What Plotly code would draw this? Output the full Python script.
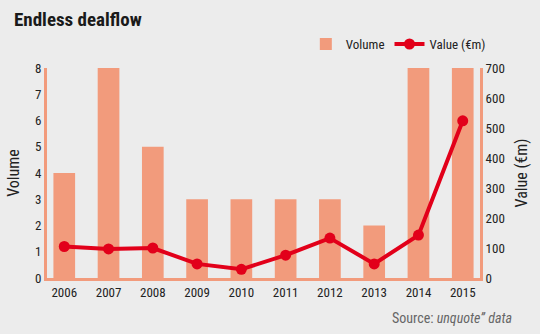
import plotly.graph_objects as go

years = ["2006", "2007", "2008", "2009", "2010", "2011", "2012", "2013", "2014", "2015"]
volume = [4, 8, 5, 3, 3, 3, 3, 2, 8, 8]
value_eur_m = [105, 97, 100, 47, 29, 76, 133, 47, 143, 524]

BAR = "#f29b7c"
RED = "#e2001a"
BG = "#ececec"
FONT = "Liberation Sans Narrow, Roboto Condensed, Arial Narrow, sans-serif"

fig = go.Figure()
fig.add_trace(go.Bar(
    x=years, y=volume, name="Volume", marker_color=BAR, marker_line_width=0,
    yaxis="y",
))
fig.add_trace(go.Scatter(
    x=years, y=value_eur_m, name="Value (€m)", mode="lines+markers",
    line=dict(color=RED, width=4), marker=dict(color=RED, size=11),
    yaxis="y2",
))

fig.update_layout(
    width=540, height=334,
    margin=dict(l=46, r=56, t=68, b=56),
    paper_bgcolor=BG, plot_bgcolor=BG,
    font=dict(family=FONT, size=13, color="#222"),
    bargap=0.51,
    showlegend=True,
    legend=dict(orientation="h", x=1.025, xanchor="right", y=1.114, yanchor="middle",
                bgcolor="rgba(0,0,0,0)", font=dict(size=13, color="#222"),
                itemwidth=30, traceorder="normal"),
    xaxis=dict(
        type="category", range=[-0.39, 9.39],
        showline=True, linecolor=BAR, linewidth=3,
        showgrid=False, ticks="", tickfont=dict(size=13, color="#222"),
    ),
    yaxis=dict(
        range=[0, 8], dtick=1, showgrid=False, zeroline=False,
        showline=True, linecolor=BAR, linewidth=3, ticks="",
        title=dict(text="Volume", font=dict(size=16, color="#222"), standoff=12),
        tickfont=dict(size=13, color="#222"),
    ),
    yaxis2=dict(
        range=[0, 700], dtick=100, overlaying="y", side="right",
        showgrid=False, zeroline=False,
        showline=True, linecolor=BAR, linewidth=3, ticks="",
        title=dict(text="Value (€m)", font=dict(size=16, color="#222"), standoff=12),
        tickfont=dict(size=13, color="#222"),
    ),
    annotations=[
        dict(text="<b>Endless dealflow</b>", xref="paper", yref="paper",
             x=-0.08, y=1.229, xanchor="left", yanchor="middle", showarrow=False,
             font=dict(size=19, color="#1a1a1a", family=FONT)),
        dict(text="Source: <i>unquote\u201d data</i>", xref="paper", yref="paper",
             x=1.078, y=-0.19, xanchor="right", yanchor="middle", showarrow=False,
             font=dict(size=14, color="#666")),
    ],
)

fig.write_html("out.html")
